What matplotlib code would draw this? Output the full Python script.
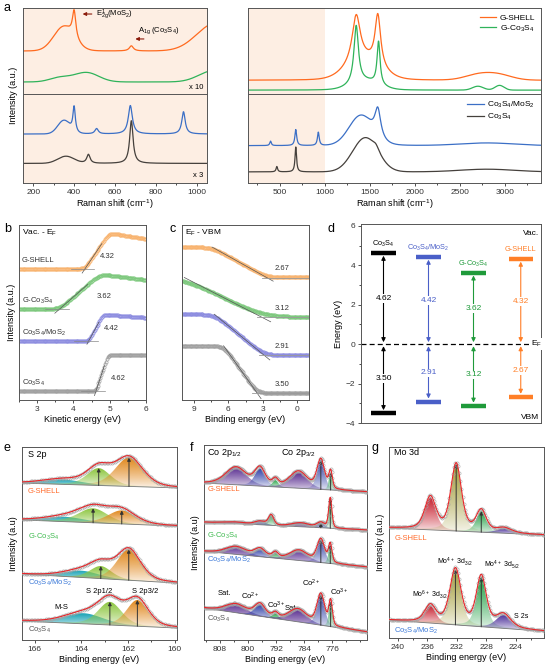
import numpy as np
import matplotlib
matplotlib.use('Agg')
import matplotlib.pyplot as plt
from matplotlib.patches import PathPatch
from matplotlib.colors import to_rgb
from matplotlib.ticker import MultipleLocator

plt.rcParams['font.family'] = ['Liberation Sans', 'DejaVu Sans']
plt.rcParams['mathtext.default'] = 'regular'

# ---------------- data ----------------
# a: Raman peaks (kind, centre, height, width); l = lorentz, g = gauss
ram_names = ['G-SHELL', 'G-Co$_3$S$_4$', 'Co$_3$S$_4$/MoS$_2$', 'Co$_3$S$_4$']
ram_colors = ['#ff6a1f', '#2fb35a', '#3b6fc6', '#45403c']
# left panel (150-1050 cm-1), zoomed
ram_l_base = [0.50, 0.14, 0.55, 0.22]
ram_l_peaks = [
    [('g', 350, 0.28, 50), ('l', 400, 0.31, 10), ('l', 680, 0.06, 12), ('g', 1090, 0.32, 90)],
    [('g', 330, 0.05, 50), ('g', 460, 0.11, 60), ('g', 1080, 0.13, 70)],
    [('g', 350, 0.15, 30), ('l', 400, 0.28, 7), ('l', 510, 0.06, 10), ('l', 675, 0.32, 12), ('l', 935, 0.25, 10)],
    [('g', 360, 0.08, 40), ('l', 470, 0.10, 10), ('l', 680, 0.48, 10)],
]
# right panel (full range)
ram_r_base = [0.16, 0.045, 0.42, 0.125]
ram_r_peaks = [
    [('l', 1350, 0.55, 55), ('l', 1590, 0.60, 38), ('g', 1430, 0.22, 180), ('g', 2700, 0.06, 150), ('g', 2930, 0.06, 150)],
    [('l', 1350, 0.67, 30), ('l', 1598, 0.50, 20), ('g', 1450, 0.10, 150), ('g', 2700, 0.045, 60), ('g', 2940, 0.055, 50)],
    [('l', 400, 0.05, 10), ('l', 680, 0.18, 12), ('l', 930, 0.15, 12), ('g', 1400, 0.33, 130), ('l', 1590, 0.32, 40), ('g', 2800, 0.03, 300)],
    [('l', 470, 0.06, 10), ('l', 680, 0.28, 10), ('g', 1450, 0.38, 140), ('l', 1570, 0.05, 40), ('g', 2800, 0.03, 300)],
]

# b: work function (Vac. - EF)
b_names = ['G-SHELL', 'G-Co$_3$S$_4$', 'Co$_3$S$_4$/MoS$_2$', 'Co$_3$S$_4$']
b_wf = [4.32, 3.62, 4.42, 4.62]
b_top_e = [4.98, 4.72, 4.82, 4.95]
b_base = [0.75, 0.52, 0.337, 0.05]
b_top = [0.955, 0.72, 0.49, 0.257]
b_end = [0.92, 0.686, 0.47, 0.257]
bc_colors = ['#f8b36e', '#7cc87c', '#8c8ce0', '#a0a0a0']

# c: EF - VBM
c_vbm = [2.67, 3.12, 2.91, 3.50]
c_top_e = [7.4, 9.8, 7.2, 6.4]
c_high = [0.874, 0.70, 0.49, 0.31]
c_low = [0.70, 0.474, 0.257, 0.04]

# d: band diagram
d_names = ['Co$_3$S$_4$', 'Co$_3$S$_4$/MoS$_2$', 'G-Co$_3$S$_4$', 'G-SHELL']
d_vac = [4.62, 4.42, 3.62, 4.32]
d_vbm = [3.50, 2.91, 3.12, 2.67]
d_colors = ['black', '#4a5fc8', '#1f9a3a', '#ff7f27']

# e: S 2p  (centre, height, hwhm); baseline (left, right)
xps_names = ['G-SHELL', 'G-Co$_3$S$_4$', 'Co$_3$S$_4$/MoS$_2$', 'Co$_3$S$_4$']
xps_label_colors = ['#ff6a2a', '#3dba4e', '#3a78d8', '#555555']
e_base = [(8.13, 7.88), (6.22, 5.90), (3.42, 2.95), (0.98, 0.62)]
e_ms = [(164.8, 0.25, 1.0), (164.7, 0.25, 1.0), (164.0, 0.35, 0.9), (163.9, 0.55, 1.0)]
e_p12 = [(163.26, 0.9, 0.6), (163.5, 0.75, 0.75), (163.17, 0.65, 0.55), (162.78, 1.2, 0.6)]
e_p32 = [(161.96, 1.5, 0.7), (162.27, 0.7, 0.7), (161.97, 1.6, 0.6), (161.6, 1.36, 0.55)]

# f: Co 2p
f_base = [(8.05, 7.59), (6.05, 5.64), (4.55, 3.74), (1.64, 0.41)]
f_sat1 = [(803.5, 0.9, 3.5), (803.5, 0.08, 3.5), (803.5, 0.40, 3.5), (803.5, 0.45, 3.5)]
f_co2_12 = [(796.6, 0.9, 1.8), (796.5, 0.18, 1.8), (796.6, 0.40, 1.8), (796.6, 0.62, 1.8)]
f_co3_12 = [(792.2, 0.35, 1.0), (793.4, 0.52, 0.9), (792.2, 0.28, 1.0), (792.2, 0.26, 1.0)]
f_sat2 = [(785.6, 0.85, 3.0), (785.0, 0.2, 3.0), (785.5, 0.52, 3.0), (785.8, 0.65, 3.0)]
f_co2_32 = [(779.2, 1.5, 1.3), (779.2, 0.26, 1.3), (779.2, 1.18, 1.3), (779.2, 1.58, 1.3)]
f_co3_32 = [(776.4, 0.9, 0.6), (776.5, 1.55, 0.55), (776.5, 0.95, 0.6), (776.4, 1.28, 0.6)]

# g: Mo 3d (G-SHELL, Co3S4/MoS2)
g_names = ['G-SHELL', 'Co$_3$S$_4$/MoS$_2$']
g_base = [(5.76, 5.39), (0.94, 0.35)]
g_mo6 = [(235.6, 1.7, 0.9), (235.6, 0.9, 0.9)]
g_mo4_32 = [(232.1, 3.5, 0.85), (232.2, 2.9, 0.9)]
g_mo4_52 = [(228.7, 1.1, 0.8), (228.7, 2.6, 0.8)]
g_s2s = [(225.6, 0.25, 1.2), (225.7, 0.7, 1.2)]

# ---------------- helpers ----------------
W, H = 546, 666
fig = plt.figure(figsize=(W / 100, H / 100), dpi=100)


def ax_at(l, t, r, b):
    return fig.add_axes([l / W, 1 - b / H, (r - l) / W, (b - t) / H])


def style(ax, yticks=False):
    for s in ax.spines.values():
        s.set_color('#555555')
        s.set_linewidth(0.7)
    ax.tick_params(direction='out', length=2.5, width=0.6, labelsize=6, colors='#333333', pad=1.5)
    ax.tick_params(which='minor', direction='out', length=1.5, width=0.5)
    if not yticks:
        ax.set_yticks([])


def peaks_sum(x, peaks):
    y = np.zeros_like(x)
    for kind, c, h, w in peaks:
        if kind == 'l':
            y += h / (1 + ((x - c) / w) ** 2)
        else:
            y += h * np.exp(-0.5 * ((x - c) / w) ** 2)
    return y


def pv(x, c, h, w, eta=0.35):
    u = (x - c) / w
    return h * (eta / (1 + u ** 2) + (1 - eta) * np.exp(-np.log(2) * u ** 2))


def soft01(t, k):
    return k * np.logaddexp(0, t / k) - k * np.logaddexp(0, (t - 1) / k)


def grad_fill(ax, x, lo, hi, color):
    coll = ax.fill_between(x, lo, hi, facecolor='none', edgecolor='none', linewidth=0)
    patch = PathPatch(coll.get_paths()[0], transform=ax.transData, facecolor='none', edgecolor='none')
    ax.add_patch(patch)
    img = np.zeros((100, 1, 4))
    img[:, 0, :3] = to_rgb(color)
    img[:, 0, 3] = np.linspace(0.05, 1.0, 100) ** 0.8
    im = ax.imshow(img, extent=[x.min(), x.max(), lo.min(), hi.max()], origin='lower',
                   aspect='auto', zorder=1, interpolation='bilinear')
    im.set_clip_path(patch)


def draw_xps(ax, x, base, comps, colors, arrow_ids, eta=0.35):
    bl = base[1] + (base[0] - base[1]) * (x - x[0]) / (x[-1] - x[0])
    env = bl.copy()
    for (c, h, w), col in zip(comps, colors):
        y = pv(x, c, h, w, eta)
        env += y
        m = y > 0.01 * h
        grad_fill(ax, x[m], bl[m], bl[m] + y[m], col)
    ax.plot(x, bl, color='#777777', lw=0.6, zorder=3)
    for i in arrow_ids:
        c, h, w = comps[i]
        b0 = np.interp(c, x, bl)
        ax.annotate('', xy=(c, b0 + h), xytext=(c, b0), zorder=4,
                    arrowprops=dict(arrowstyle='-|>', color='#333333', lw=0.7,
                                    mutation_scale=5, shrinkA=0, shrinkB=0))
    ax.plot(x[::2], env[::2], 'o', ms=2.3, mfc='none', mec='#a5a5a5', mew=0.4, zorder=5)
    ax.plot(x, env, color='#e8262a', lw=0.8, zorder=6)


peach = '#fdeee3'

# ---------------- panel a ----------------
xl = np.linspace(150, 1050, 900)
xr = np.linspace(150, 3400, 1600)
a_lt = ax_at(23, 8, 207, 94)
a_lb = ax_at(23, 94, 207, 183)
a_rt = ax_at(248, 8, 541, 94)
a_rb = ax_at(248, 94, 541, 183)

for ax, idx in ((a_lt, (0, 1)), (a_lb, (2, 3))):
    ax.set_facecolor(peach)
    for i in idx:
        ax.plot(xl, ram_l_base[i] + peaks_sum(xl, ram_l_peaks[i]), color=ram_colors[i], lw=0.9)
    ax.set_xlim(150, 1050)
    ax.set_ylim(0, 1)
    style(ax)
for ax, idx in ((a_rt, (0, 1)), (a_rb, (2, 3))):
    ax.axvspan(150, 1000, color=peach, lw=0, zorder=0)
    for i in idx:
        ax.plot(xr, ram_r_base[i] + peaks_sum(xr, ram_r_peaks[i]), color=ram_colors[i], lw=0.9,
                label=ram_names[i])
    ax.set_xlim(150, 3400)
    ax.set_ylim(0, 1)
    style(ax)
    ax.legend(loc='upper right', fontsize=6, frameon=False, handlelength=2.0,
              borderaxespad=0.3, labelspacing=0.2, handletextpad=0.4)
for ax in (a_lt, a_rt):
    ax.tick_params(bottom=False, labelbottom=False)
a_lb.xaxis.set_major_locator(MultipleLocator(200))
a_lb.xaxis.set_minor_locator(MultipleLocator(100))
a_rb.xaxis.set_major_locator(MultipleLocator(500))
a_rb.xaxis.set_minor_locator(MultipleLocator(250))
for ax in (a_lb, a_rb):
    ax.set_xlabel('Raman shift (cm$^{-1}$)', fontsize=6.5, labelpad=1.5)
a_lt.annotate('', xy=(428, 0.93), xytext=(500, 0.93),
              arrowprops=dict(arrowstyle='-|>', color='#8b1a0a', lw=0.8, mutation_scale=5))
a_lt.text(505, 0.93, 'E$_{2g}^{1}$(MoS$_2$)', fontsize=5.5, va='center', ha='left')
a_lt.annotate('', xy=(686, 0.64), xytext=(755, 0.64),
              arrowprops=dict(arrowstyle='-|>', color='#8b1a0a', lw=0.8, mutation_scale=5))
a_lt.text(711, 0.74, 'A$_{1g}$ (Co$_3$S$_4$)', fontsize=5.5, va='center', ha='left')
a_lt.text(1030, 0.07, 'x 10', fontsize=5.5, ha='right', va='center')
a_lb.text(1030, 0.08, 'x 3', fontsize=5.5, ha='right', va='center')
fig.text(14 / W, 1 - 95 / H, 'Intensity (a.u.)', rotation=90, va='center', ha='center', fontsize=6.5)

# ---------------- panel b ----------------
ax_b = ax_at(19, 225, 146, 400)
xb = np.linspace(2.5, 6.0, 140)
for i in range(4):
    t = (xb - b_wf[i]) / (b_top_e[i] - b_wf[i])
    y = b_base[i] + (b_top[i] - b_base[i]) * soft01(t, 0.08) \
        + (b_end[i] - b_top[i]) * soft01((xb - b_top_e[i]) / (6 - b_top_e[i]), 0.05)
    ax_b.plot(xb, y, 'o-', color=bc_colors[i], ms=2.3, mfc='none', mew=0.5, lw=0.5)
    tt = np.array([-0.12, 0.7])
    ax_b.plot(b_wf[i] + tt * (b_top_e[i] - b_wf[i]), b_base[i] + tt * (b_top[i] - b_base[i]),
              color='#555555', lw=0.5)
    ax_b.plot([b_wf[i] - 0.4, b_wf[i] + 0.25], [b_base[i]] * 2, color='#888888', lw=0.5)
    ax_b.text(2.58, b_base[i] + 0.045, b_names[i], fontsize=5.5, color='#333333', va='center')
    ax_b.text(b_wf[i] + 0.42 if i != 1 else 4.65, b_base[i] + 0.07,
              f'{b_wf[i]:.2f}', fontsize=5.5, color='#333333', va='center')
ax_b.text(2.58, 0.955, 'Vac. - E$_F$', fontsize=6, va='center')
ax_b.set_xlim(2.5, 6)
ax_b.set_ylim(0, 1)
style(ax_b)
ax_b.xaxis.set_major_locator(MultipleLocator(1))
ax_b.xaxis.set_minor_locator(MultipleLocator(0.5))
ax_b.set_xlabel('Kinetic energy (eV)', fontsize=6.5, labelpad=1.5)
ax_b.set_ylabel('Intensity (a.u.)', fontsize=6.5, labelpad=2)

# ---------------- panel c ----------------
ax_c = ax_at(182, 225, 309, 400)
xc = np.linspace(-1, 10, 150)
for i in range(4):
    k = 0.15 if i == 1 else 0.09
    t = (xc - c_vbm[i]) / (c_top_e[i] - c_vbm[i])
    y = c_low[i] + (c_high[i] - c_low[i]) * soft01(t, k)
    ax_c.plot(xc, y, 'o-', color=bc_colors[i], ms=2.3, mfc='none', mew=0.5, lw=0.5)
    tt = np.array([-0.12, 1.0])
    ax_c.plot(c_vbm[i] + tt * (c_top_e[i] - c_vbm[i]), c_low[i] + tt * (c_high[i] - c_low[i]),
              color='#555555', lw=0.5)
    ax_c.plot([c_vbm[i] + 0.4, -1], [c_low[i]] * 2, color='#999999', lw=0.6)
    ax_c.text(1.3, c_low[i] + 0.05, f'{c_vbm[i]:.2f}', fontsize=5.5, color='#333333',
              va='center', ha='center')
ax_c.text(9.75, 0.955, 'E$_F$ - VBM', fontsize=6, va='center')
ax_c.set_xlim(10, -1)
ax_c.set_ylim(0, 1)
style(ax_c)
ax_c.xaxis.set_major_locator(MultipleLocator(3))
ax_c.xaxis.set_minor_locator(MultipleLocator(1.5))
ax_c.set_xlabel('Binding energy (eV)', fontsize=6.5, labelpad=1.5)

# ---------------- panel d ----------------
ax_d = ax_at(361, 224, 541, 423)
d_x = [0.5, 1.5, 2.5, 3.55]
for i in range(4):
    x0, col = d_x[i], d_colors[i]
    ax_d.hlines([d_vac[i], -d_vbm[i]], x0 - 0.27, x0 + 0.27, color=col, lw=3.2)
    ap = dict(arrowstyle='<|-|>', color=col, lw=0.8, mutation_scale=6, shrinkA=0, shrinkB=0)
    ax_d.annotate('', xy=(x0, d_vac[i] - 0.13), xytext=(x0, 0.1), arrowprops=ap)
    ax_d.annotate('', xy=(x0, -d_vbm[i] + 0.15), xytext=(x0, -0.1), arrowprops=ap)
    ax_d.text(x0, d_vac[i] / 2, f'{d_vac[i]:.2f}', color=col, fontsize=6, ha='center', va='center',
              bbox=dict(fc='white', ec='none', pad=0.6))
    ax_d.text(x0, -d_vbm[i] / 2, f'{d_vbm[i]:.2f}', color=col, fontsize=6, ha='center', va='center',
              bbox=dict(fc='white', ec='none', pad=0.6))
    ax_d.text(x0, d_vac[i] + 0.47, d_names[i], color=col, fontsize=5.3, ha='center', va='center')
ax_d.axhline(0, color='black', lw=0.9, ls=(0, (4, 2.5)), zorder=0)
ax_d.text(3.78, 0, 'E$_F$', fontsize=6, va='center', ha='left', bbox=dict(fc='white', ec='none', pad=0.5))
ax_d.text(3.95, 5.6, 'Vac.', fontsize=6, ha='right', va='center')
ax_d.text(3.95, -3.7, 'VBM', fontsize=6, ha='right', va='center')
ax_d.set_xlim(0, 4)
ax_d.set_ylim(-4, 6.1)
style(ax_d, yticks=True)
ax_d.set_xticks([])
ax_d.yaxis.set_major_locator(MultipleLocator(2))
ax_d.yaxis.set_minor_locator(MultipleLocator(1))
ax_d.set_ylabel('Energy (eV)', fontsize=6.5, labelpad=2)

# ---------------- panel e ----------------
ax_e = ax_at(22, 447, 177, 640)
xe = np.linspace(159.9, 166.55, 200)
e_cols = ['#17a3b5', '#8cc63f', '#e0871c']
for i in range(4):
    draw_xps(ax_e, xe, e_base[i], [e_ms[i], e_p12[i], e_p32[i]], e_cols, [1, 2])
e_lab_y = [7.72, 5.34, 2.95, 0.52]
for i in range(4):
    ax_e.text(166.3, e_lab_y[i], xps_names[i], color=xps_label_colors[i], fontsize=5.5, va='center')
ax_e.text(166.3, 9.6, 'S 2p', fontsize=6.5, va='center')
ax_e.text(164.87, 1.66, 'M-S', fontsize=5.5, ha='center', va='center')
ax_e.text(163.26, 2.49, 'S 2p1/2', fontsize=5.5, ha='center', va='center')
ax_e.text(161.26, 2.49, 'S 2p3/2', fontsize=5.5, ha='center', va='center')
ax_e.set_xlim(166.55, 159.9)
ax_e.set_ylim(0, 10)
style(ax_e)
ax_e.xaxis.set_major_locator(MultipleLocator(2))
ax_e.xaxis.set_minor_locator(MultipleLocator(1))
ax_e.set_xlabel('Binding energy (eV)', fontsize=6.5, labelpad=1.5)
ax_e.set_ylabel('Intensity (a.u)', fontsize=6.5, labelpad=3)

# ---------------- panel f ----------------
ax_f = ax_at(204, 445, 367, 640)
xf = np.linspace(766, 812.6, 360)
f_cols = ['#5a2d91', '#2f3fa8', '#2fa84f', '#5a2d91', '#2f3fa8', '#2fa84f']
for i in range(4):
    comps = [f_sat1[i], f_co2_12[i], f_co3_12[i], f_sat2[i], f_co2_32[i], f_co3_32[i]]
    draw_xps(ax_f, xf, f_base[i], comps, f_cols, [4, 5])
f_lab_y = [7.7, 5.35, 4.12, 1.1]
for i in range(4):
    ax_f.text(811.6, f_lab_y[i], xps_names[i], color=xps_label_colors[i], fontsize=5.5, va='center')
ax_f.text(811.7, 9.59, 'Co 2p$_{1/2}$', fontsize=6.5, va='center')
ax_f.text(790.6, 9.59, 'Co 2p$_{3/2}$', fontsize=6.5, va='center')
for s, xx, yy in (('Sat.', 806.6, 2.41), ('Co$^{2+}$', 799.4, 2.26), ('Co$^{3+}$', 791.9, 1.79),
                  ('Sat', 787.8, 1.59), ('Co$^{2+}$', 782.0, 2.92), ('Co$^{3+}$', 773.9, 2.46)):
    ax_f.text(xx, yy, s, fontsize=5.5, ha='center', va='center')
ax_f.set_xlim(812.6, 766)
ax_f.set_ylim(0, 10)
style(ax_f)
ax_f.set_xticks([808, 800, 792, 784, 776])
ax_f.xaxis.set_minor_locator(MultipleLocator(4))
ax_f.set_xlabel('Binding energy (eV)', fontsize=6.5, labelpad=1.5)
ax_f.set_ylabel('Intensity (a.u)', fontsize=6.5, labelpad=3)

# ---------------- panel g ----------------
ax_g = ax_at(389, 447, 544, 638)
xg = np.linspace(220.2, 241.2, 260)
g_cols = ['#c8202f', '#a39d3a', '#22a045', '#4a2e9a']
for i in range(2):
    draw_xps(ax_g, xg, g_base[i], [g_mo6[i], g_mo4_32[i], g_mo4_52[i], g_s2s[i]], g_cols, [1, 2],
             eta=0.5)
ax_g.text(240.5, 5.2, g_names[0], color=xps_label_colors[0], fontsize=5.5, va='center')
ax_g.text(240.5, 0.37, g_names[1], color=xps_label_colors[2], fontsize=5.5, va='center')
ax_g.text(240.5, 9.69, 'Mo 3d', fontsize=6.5, va='center')
for s, xx, yy in (('Mo$^{6+}$ 3d$_{3/2}$', 235.6, 2.25), ('Mo$^{4+}$ 3d$_{3/2}$', 232.3, 3.98),
                  ('Mo$^{4+}$ 3d$_{5/2}$', 225.9, 3.82), ('S 2s', 223.3, 1.1)):
    ax_g.text(xx, yy, s, fontsize=5, ha='center', va='center')
ax_g.set_xlim(241.2, 220.2)
ax_g.set_ylim(0, 10)
style(ax_g)
ax_g.xaxis.set_major_locator(MultipleLocator(4))
ax_g.xaxis.set_minor_locator(MultipleLocator(2))
ax_g.set_xlabel('Binding energy (eV)', fontsize=6.5, labelpad=1.5)
ax_g.set_ylabel('Intensity (a.u.)', fontsize=6.5, labelpad=3)

# panel letters
for s, px, py in (('a', 4, 8), ('b', 4, 229), ('c', 169, 229), ('d', 328, 229),
                  ('e', 4, 448), ('f', 190, 448), ('g', 372, 448)):
    fig.text(px / W, 1 - py / H, s, fontsize=9, va='center', ha='left')

fig.savefig('out.png', dpi=100)
